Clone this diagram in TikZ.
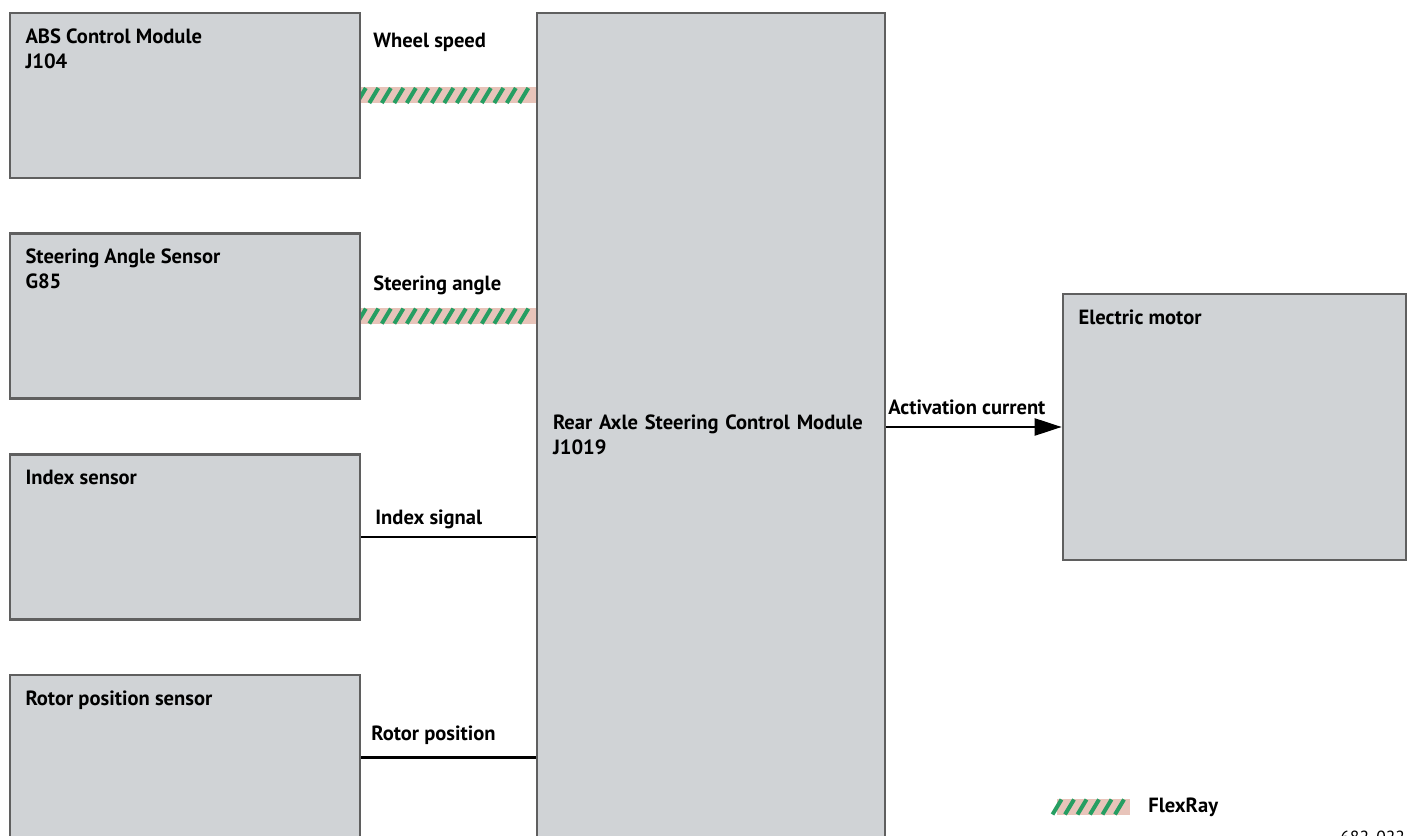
\documentclass[tikz,border=0pt]{standalone}
\usepackage{fontspec}
\setmainfont{PT Sans}
\usetikzlibrary{positioning,arrows.meta,decorations.markings,backgrounds}

\definecolor{boxgray}{RGB}{208,211,214}
\definecolor{edgegray}{RGB}{95,95,95}
\definecolor{frgreen}{RGB}{38,158,98}
\definecolor{frpink}{RGB}{232,196,186}

\begin{document}
\begin{tikzpicture}[
    node distance=1.06cm,
    font=\fontsize{11.7}{14.2}\selectfont\bfseries,
    unit/.style={rectangle, draw=edgegray, line width=1.5pt, fill=boxgray, minimum width=7cm, minimum height=3.3cm, inner sep=0pt},
    unitname/.style={anchor=north west, align=left, inner sep=0pt, xshift=0.33cm, yshift=-0.33cm},
    signal/.style={anchor=west, inner sep=0pt},
    wire/.style={line width=1.3pt},
    arrow/.style={wire, -{Triangle[length=0.54cm, width=0.34cm]}},
    flexray/.style={line width=0.32cm, draw=frpink, postaction={decorate},
        decoration={markings, mark=between positions 0 and 1 step 0.25cm with {\draw[frgreen, line width=0.08cm] (-0.09,-0.15) -- (0.09,0.15);}}}
]
\useasboundingbox (0,0) rectangle (28.16,-16.72);

% Sensors
\node[unit, label={[unitname]north west:{ABS Control Module\\J104}}] (abs) at (3.7,-1.91) {};
\node[unit, below=of abs, label={[unitname]north west:{Steering Angle Sensor\\G85}}] (sas) {};
\node[unit, below=of sas, label={[unitname]north west:{Index sensor}}] (idx) {};
\node[unit, below=of idx, label={[unitname]north west:{Rotor position sensor}}] (rps) {};

% Control module
\node[unit, minimum width=6.96cm, minimum height=16.88cm, text width=6.32cm, inner xsep=0.32cm, align=left] (ctrl) at (14.22,-8.70) {Rear Axle Steering Control Module\\J1019};

% Electric motor
\node[unit, minimum width=6.86cm, minimum height=5.32cm, label={[unitname]north west:{Electric motor}}] (motor) at (24.69,-8.54) {};

% Signal names
\node[signal] (wsp) at (7.46,-0.84) {Wheel speed};
\node[signal] (sang) at (7.46,-5.70) {Steering angle};
\node[signal] (isig) at (7.50,-10.38) {Index signal};
\node[signal] (rpos) at (7.42,-14.70) {Rotor position};
\node[signal] (acur) at (17.76,-8.14) {Activation current};

% Connections
\begin{scope}[on background layer]
\draw[flexray] (abs.east) -- (abs.east -| ctrl.west);
\draw[flexray] (sas.east) -- (sas.east -| ctrl.west);
\end{scope}
\draw[wire] (idx.east) -- (idx.east -| ctrl.west);
\draw[wire] (rps.east) -- (rps.east -| ctrl.west);
\draw[arrow] (motor.west -| ctrl.east) -- (motor.west);

% Legend
\coordinate (legA) at (21.14,-16.14);
\coordinate (legB) at (22.60,-16.14);
\draw[flexray] (legA) -- (legB);
\node[signal, right=0.36cm of legB] (legtext) {FlexRay};

% Figure number
\node[anchor=north west, inner sep=0pt, font=\fontsize{10}{12}\selectfont\mdseries] (fignum) at (26.8,-16.62) {682\_022};

\end{tikzpicture}
\end{document}
